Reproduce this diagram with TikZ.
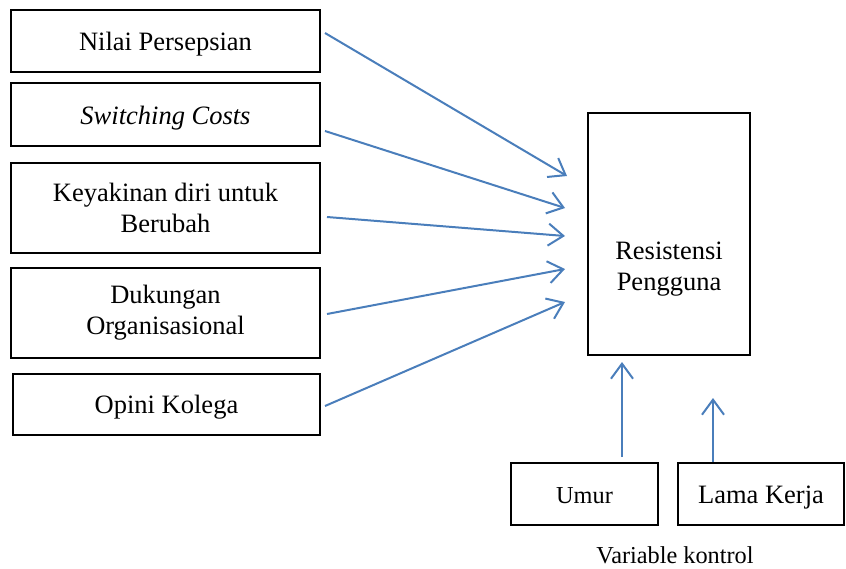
\documentclass[tikz,border=0pt]{standalone}
\usepackage{fontspec}
\setmainfont{Liberation Serif}
\usetikzlibrary{arrows.meta}
\definecolor{arrowblue}{RGB}{74,126,187}

\begin{document}
\begin{tikzpicture}[x=1pt,y=-1pt,
		box/.style={draw, line width=2pt, rectangle, align=center, inner sep=0pt,
			font=\fontsize{26.5}{31}\selectfont},
		oneline/.style={text height=21pt, text depth=2pt},
		lbl/.style={align=center, inner sep=0pt, font=\fontsize{26.5}{31}\selectfont},
		link/.style={arrowblue, line width=2pt, -{Straight Barb[length=15pt,width=22pt]}}]
	\useasboundingbox (0,0) rectangle (846,568);
	% variabel bebas
	\node[box, oneline, minimum width=309, minimum height=62] (np) at (165.5,41) {Nilai Persepsian};
	\node[box, oneline, minimum width=309, minimum height=63] (sc) at (165.5,114.5) {\textit{Switching Costs}};
	\node[box, minimum width=309, minimum height=90] (kd) at (165.5,208) {Keyakinan diri untuk\\Berubah};
	\node[box, minimum width=309, minimum height=90] (do) at (165.5,313) {Dukungan\\Organisasional};
	\node[box, oneline, minimum width=307, minimum height=61] (ok) at (166.5,404) {Opini Kolega};
	% variabel terikat
	\node[box, minimum width=162, minimum height=242,
		label={[lbl, yshift=-35pt]center:Resistensi\\Pengguna}] (rp) at (669,234) {};
	% variabel kontrol
	\node[box, oneline, minimum width=147, minimum height=62, font=\fontsize{24.3}{29}\selectfont] (um) at (584.5,494) {Umur};
	\node[box, oneline, minimum width=166, minimum height=62] (lk) at (761,494) {Lama Kerja};
	\node[font=\fontsize{24.3}{29}\selectfont, inner sep=0pt] (vk) at (675,555) {Variable kontrol};
	% ujung panah
	\coordinate (np-s) at (325,33);   \coordinate (np-e) at (567,176);
	\coordinate (sc-s) at (325,131);  \coordinate (sc-e) at (565,208);
	\coordinate (kd-s) at (327,217);  \coordinate (kd-e) at (565,236);
	\coordinate (do-s) at (327,314);  \coordinate (do-e) at (565,269);
	\coordinate (ok-s) at (325,406);  \coordinate (ok-e) at (565,302);
	\coordinate (um-s) at (622,457);  \coordinate (um-e) at (622,362);
	\coordinate (lk-e) at (713,398);
	\draw[link] (np-s) -- (np-e);
	\draw[link] (sc-s) -- (sc-e);
	\draw[link] (kd-s) -- (kd-e);
	\draw[link] (do-s) -- (do-e);
	\draw[link] (ok-s) -- (ok-e);
	\draw[link] (um-s) -- (um-e);
	\draw[link] (lk.north -| lk-e) -- (lk-e);
\end{tikzpicture}
\end{document}
